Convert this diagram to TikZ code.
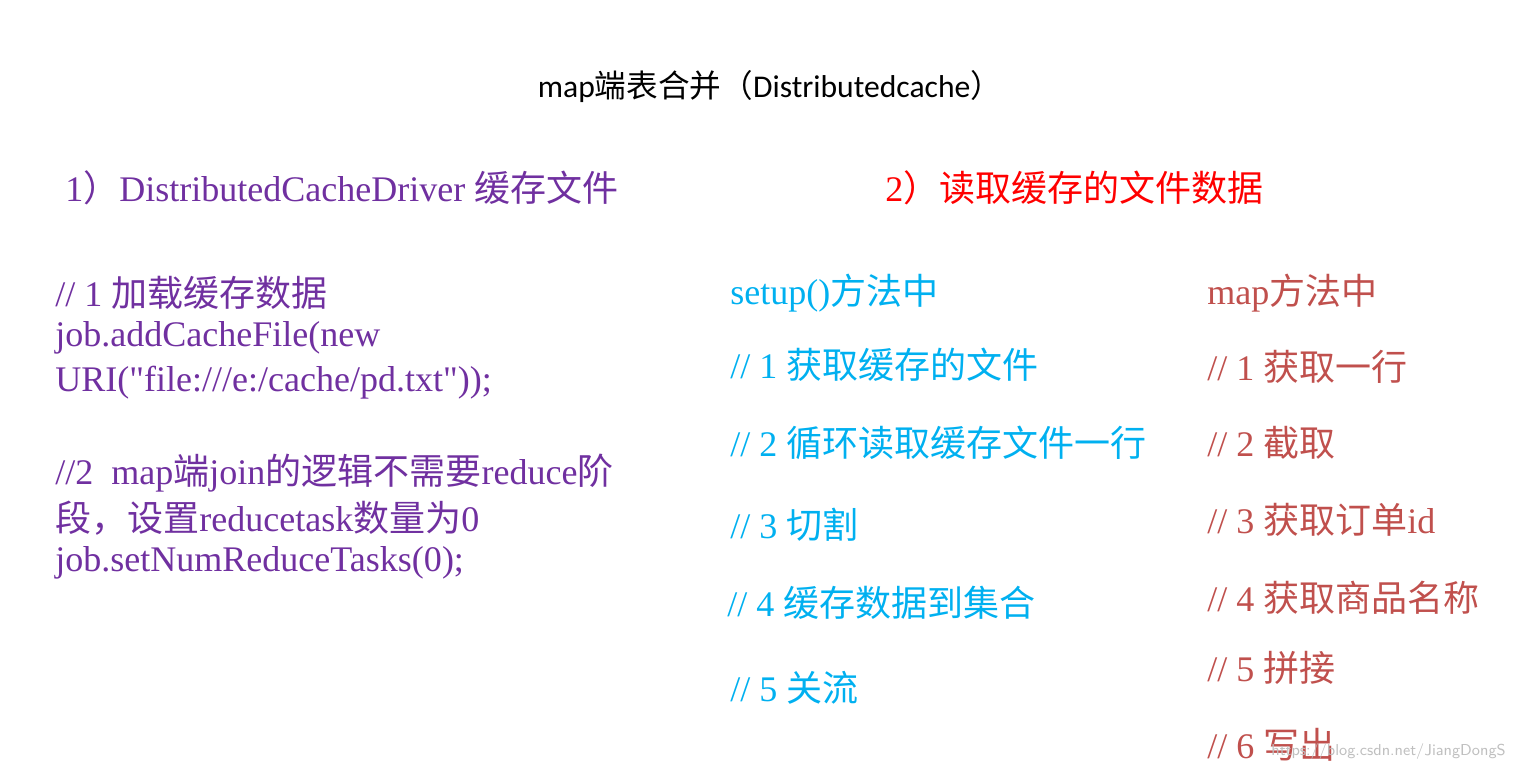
\documentclass[tikz,border=0pt]{standalone}
\usepackage{fontspec}
\setmainfont{Liberation Serif}
\newfontfamily\zhfont{Noto Sans CJK SC}
\newfontfamily\titlefont{Carlito}
\newcommand{\zh}[1]{{\zhfont #1}}
\definecolor{leftpurple}{RGB}{112,48,160}
\definecolor{midcyan}{RGB}{0,176,240}
\definecolor{rightbrown}{RGB}{192,80,77}
\begin{document}
\begin{tikzpicture}[
  x=0.02cm,y=-0.02cm,
  line/.style={anchor=west,inner sep=0pt,font=\fontsize{20.5}{24}\selectfont},
  head/.style={line,font=\fontsize{20.5}{24}\selectfont},
]
  \useasboundingbox (0,0) rectangle (1514,774);

  \node[inner sep=0pt,font=\titlefont\fontsize{18}{21}\selectfont] (title) at (770,87)
    {map\zh{端表合并（}Distributedcache\zh{）}};

  \node[head,leftpurple] (stepone) at (65,188) {1\zh{）}DistributedCacheDriver \zh{缓存文件}};
  \node[head,red] (steptwo) at (885,188) {2\zh{）读取缓存的文件数据}};

  % driver code
  \node[line,leftpurple] (drvA) at (55,293) {// 1 \zh{加载缓存数据}};
  \node[line,leftpurple] (drvB) at (55,338) {job.addCacheFile(new};
  \node[line,leftpurple] (drvC) at (55,383) {URI(\textquotedbl file:///e:/cache/pd.txt\textquotedbl));};
  \node[line,leftpurple] (drvD) at (55,473) {//2\ \ map\zh{端}join\zh{的逻辑不需要}reduce\zh{阶}};
  \node[line,leftpurple] (drvE) at (55,518) {\zh{段，设置}reducetask\zh{数量为}0};
  \node[line,leftpurple] (drvF) at (55,563) {job.setNumReduceTasks(0);};

  % setup
  \node[line,midcyan] (setA) at (730,293) {setup()\zh{方法中}};
  \node[line,midcyan] (setB) at (730,365) {// 1 \zh{获取缓存的文件}};
  \node[line,midcyan] (setC) at (730,443) {// 2 \zh{循环读取缓存文件一行}};
  \node[line,midcyan] (setD) at (730,525) {// 3 \zh{切割}};
  \node[line,midcyan] (setE) at (727,603) {// 4 \zh{缓存数据到集合}};
  \node[line,midcyan] (setF) at (730,688) {// 5 \zh{关流}};

  % map
  \node[line,rightbrown] (mapA) at (1207,293) {map\zh{方法中}};
  \node[line,rightbrown] (mapB) at (1207,367) {// 1 \zh{获取一行}};
  \node[line,rightbrown] (mapC) at (1207,443) {// 2 \zh{截取}};
  \node[line,rightbrown] (mapD) at (1207,520) {// 3 \zh{获取订单}id};
  \node[line,rightbrown] (mapE) at (1207,598) {// 4 \zh{获取商品名称}};
  \node[line,rightbrown] (mapF) at (1207,668) {// 5 \zh{拼接}};
  \node[line,rightbrown] (mapG) at (1207,745) {// 6 \zh{写出}};

  \node[anchor=east,inner sep=0pt,black!25,font=\sffamily\fontsize{9}{10}\selectfont] (mark) at (1506,752)
    {https://blog.csdn.net/JiangDongS};
\end{tikzpicture}
\end{document}
